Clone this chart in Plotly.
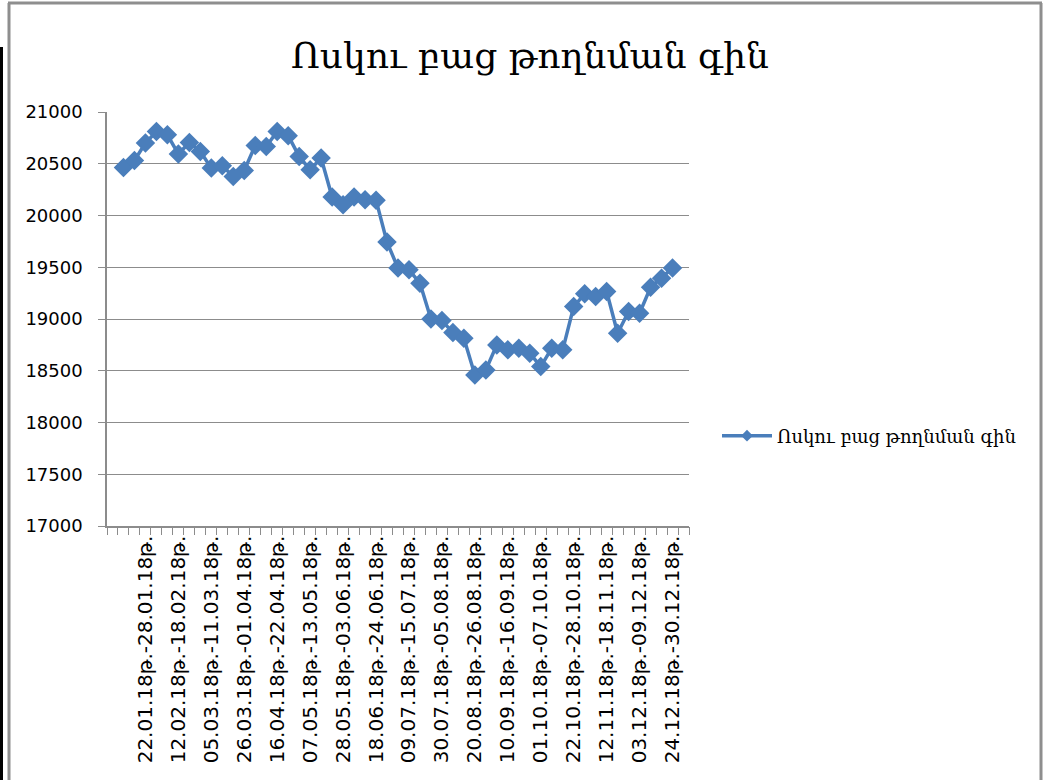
import plotly.graph_objects as go

# ---- data ----
week_starts = ["08.01", "15.01", "22.01", "29.01", "05.02", "12.02", "19.02", "26.02",
               "05.03", "12.03", "19.03", "26.03", "02.04", "09.04", "16.04", "23.04",
               "30.04", "07.05", "14.05", "21.05", "28.05", "04.06", "11.06", "18.06",
               "25.06", "02.07", "09.07", "16.07", "23.07", "30.07", "06.08", "13.08",
               "20.08", "27.08", "03.09", "10.09", "17.09", "24.09", "01.10", "08.10",
               "15.10", "22.10", "29.10", "05.11", "12.11", "19.11", "26.11", "03.12",
               "10.12", "17.12", "24.12"]
week_ends = ["14.01", "21.01", "28.01", "04.02", "11.02", "18.02", "25.02", "04.03",
             "11.03", "18.03", "25.03", "01.04", "08.04", "15.04", "22.04", "29.04",
             "06.05", "13.05", "20.05", "27.05", "03.06", "10.06", "17.06", "24.06",
             "01.07", "08.07", "15.07", "22.07", "29.07", "05.08", "12.08", "19.08",
             "26.08", "02.09", "09.09", "16.09", "23.09", "30.09", "07.10", "14.10",
             "21.10", "28.10", "04.11", "11.11", "18.11", "25.11", "02.12", "09.12",
             "16.12", "23.12", "30.12"]
prices = [20464, 20532, 20700, 20812, 20780, 20594, 20706, 20619, 20458, 20481,
          20377, 20435, 20677, 20667, 20812, 20771, 20571, 20442, 20555, 20178,
          20104, 20178, 20152, 20148, 19743, 19492, 19475, 19346, 19001, 18985,
          18869, 18815, 18460, 18508, 18750, 18702, 18718, 18670, 18540, 18718,
          18702, 19120, 19243, 19217, 19265, 18863, 19072, 19056, 19307, 19394,
          19492]
series_name = "Ոսկու բաց թողնման գին"
title_text = "Ոսկու բաց թողնման գին"
y_ticks = [17000, 17500, 18000, 18500, 19000, 19500, 20000, 20500, 21000]
y_tick_text = [str(v) for v in y_ticks]

categories = [f"{s}.18թ.-{e}.18թ." for s, e in zip(week_starts, week_ends)]
label_every = 3
label_first = 2
shown_labels = categories[label_first::label_every]

# ---- layout geometry (pixels) ----
W, H = 1046, 780
L, R, T, B = 107, 357, 112, 254
pw, ph = W - L - R, H - T - B

def px_x(p):
    return (p - L) / pw

def px_y(p):
    return (H - B - p) / ph

BLUE = "#4A7EBB"
GRID = "#8C8C8C"

fig = go.Figure()
fig.add_trace(go.Scatter(
    x=categories, y=prices, name=series_name, mode="lines+markers",
    line=dict(color=BLUE, width=3.5),
    marker=dict(symbol="diamond", size=15, color=BLUE),
    xaxis="x", yaxis="y", showlegend=False,
))
# legend entry (smaller diamond, like the reference legend key)
fig.add_trace(go.Scatter(
    x=[None], y=[None], name=series_name, mode="lines+markers",
    line=dict(color=BLUE, width=3.5),
    marker=dict(symbol="diamond", size=9, color=BLUE),
    xaxis="x", yaxis="y", showlegend=True, hoverinfo="skip",
))
# invisible trace to activate the secondary (tick-only) x axis
fig.add_trace(go.Scatter(x=[0], y=[None], xaxis="x2", yaxis="y",
                         showlegend=False, hoverinfo="skip"))

fig.update_layout(
    template="none",
    width=W, height=H,
    margin=dict(l=L, r=R, t=T, b=B, pad=0),
    paper_bgcolor="white", plot_bgcolor="white",
    font=dict(family="DejaVu Sans", size=18, color="#000000"),
    title=dict(text=title_text, x=530 / W, xanchor="center", y=1 - 55 / H, yanchor="middle",
               font=dict(family="DejaVu Serif", size=36, color="#000000")),
    xaxis=dict(
        type="category", range=[-1.5, len(categories) + 0.5],
        tickmode="array", tickvals=shown_labels, ticktext=shown_labels,
        tickangle=-90, ticks="", showgrid=False, zeroline=False,
        showline=True, linecolor=GRID, linewidth=1.5,
        tickfont=dict(family="DejaVu Sans", size=20, color="#000000"),
        automargin=False,
    ),
    xaxis2=dict(
        type="linear", overlaying="x", anchor="y", side="bottom",
        range=[-1.5, len(categories) + 0.5], tick0=0.5, dtick=1,
        ticks="outside", ticklen=8, tickcolor=GRID, tickwidth=1.2,
        showticklabels=False, showgrid=False, zeroline=False, showline=False,
        automargin=False,
    ),
    yaxis=dict(
        range=[17000, 21000], tickmode="array", tickvals=y_ticks, ticktext=y_tick_text,
        ticks="outside", ticklen=7, tickcolor=GRID, tickwidth=1.2,
        showgrid=True, gridcolor=GRID, gridwidth=1.2, zeroline=False,
        showline=True, linecolor=GRID, linewidth=1.5,
        tickfont=dict(family="DejaVu Sans", size=18, color="#000000"),
        ticklabelstandoff=12, automargin=False,
    ),
    legend=dict(
        x=px_x(717), y=px_y(436), xanchor="left", yanchor="middle",
        font=dict(family="DejaVu Serif", size=18, color="#000000"),
        itemwidth=50, bgcolor="rgba(0,0,0,0)", borderwidth=0,
        tracegroupgap=0,
    ),
    shapes=[
        # outer gray frame
        dict(type="line", xref="paper", yref="paper", x0=px_x(9), x1=px_x(9),
             y0=px_y(3), y1=px_y(H + 5), line=dict(color="#8E8E8E", width=3)),
        dict(type="line", xref="paper", yref="paper", x0=px_x(8), x1=px_x(1042),
             y0=px_y(3), y1=px_y(3), line=dict(color="#8E8E8E", width=3)),
        dict(type="line", xref="paper", yref="paper", x0=px_x(1041), x1=px_x(1041),
             y0=px_y(3), y1=px_y(H + 5), line=dict(color="#8E8E8E", width=3)),
        # black bar at left edge
        dict(type="rect", xref="paper", yref="paper", x0=px_x(-2), x1=px_x(3),
             y0=px_y(47), y1=px_y(H + 5), fillcolor="#000000", line=dict(width=0)),
    ],
)

fig.write_html(
    "out.html",
    config={"displayModeBar": False},
    post_script="document.body.style.margin='0px';document.body.style.overflow='hidden';",
)
